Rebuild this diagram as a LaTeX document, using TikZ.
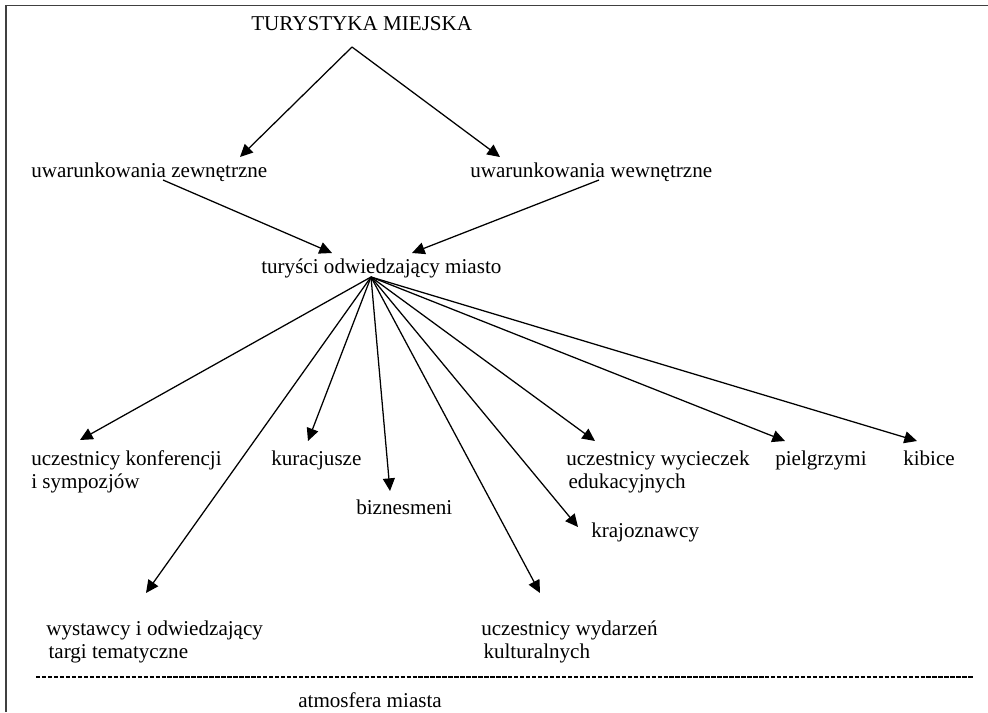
\documentclass[tikz,border=0pt]{standalone}
\usepackage{fontspec}
\setmainfont{Liberation Serif}
\usetikzlibrary{arrows.meta}

\begin{document}
\begin{tikzpicture}[x=0.025cm, y=-0.025cm,
        lbl/.style={anchor=base west, inner sep=0pt, align=left, font=\fontsize{15}{16.3}\selectfont},
        arr/.style={-{Triangle[length=9pt, width=8.5pt]}, line width=.9pt}]
        \useasboundingbox (0,0) rectangle (988,712);
        \draw[line width=.9pt, black!75] (6,712) -- (6,5.5) -- (988,5.5);

        \node[lbl] (city) at (251,30) {TURYSTYKA MIEJSKA};
        \node[lbl] (ext) at (31,177) {uwarunkowania zewnętrzne};
        \node[lbl] (int) at (470,177) {uwarunkowania wewnętrzne};
        \node[lbl] (vis) at (261,273) {turyści odwiedzający miasto};
        \coordinate (hub) at ([shift={(110,4)}]vis.base west);

        \draw[arr] ([shift={(101,17)}]city.base west) -- ([shift={(209,-20)}]ext.base west);
        \draw[arr] ([shift={(101,17)}]city.base west) -- ([shift={(30,-20)}]int.base west);
        \draw[arr] ([shift={(132,3)}]ext.base west) -- ([shift={(71,-20)}]vis.base west);
        \draw[arr] ([shift={(129,3)}]int.base west) -- ([shift={(151,-20)}]vis.base west);

        \node[lbl] (conf) at (31,488) {uczestnicy konferencji\\i sympozjów};
        \node[lbl] (spa) at (271,465) {kuracjusze};
        \node[lbl] (biz) at (356,514) {biznesmeni};
        \node[lbl] (fair) at (46,658) {wystawcy i odwiedzający\\\hspace{4\pgflinewidth}targi tematyczne};
        \node[lbl] (cult) at (481,658) {uczestnicy wydarzeń\\\hspace{4\pgflinewidth}kulturalnych};
        \node[lbl] (land) at (591,537) {krajoznawcy};
        \node[lbl] (edu) at (566,488) {uczestnicy wycieczek\\\hspace{4\pgflinewidth}edukacyjnych};
        \node[lbl] (pilg) at (775,465) {pielgrzymi};
        \node[lbl] (fans) at (903,465) {kibice};

        \draw[arr] (hub) -- ([shift={(49,-48)}]conf.base west);
        \draw[arr] (hub) -- ([shift={(37,-24)}]spa.base west);
        \draw[arr] (hub) -- ([shift={(34,-23)}]biz.base west);
        \draw[arr] (hub) -- ([shift={(100,-65)}]fair.base west);
        \draw[arr] (hub) -- ([shift={(59,-65)}]cult.base west);
        \draw[arr] (hub) -- ([shift={(-13,-10)}]land.base west);
        \draw[arr] (hub) -- ([shift={(29,-47)}]edu.base west);
        \draw[arr] (hub) -- ([shift={(10,-24)}]pilg.base west);
        \draw[arr] (hub) -- ([shift={(14,-24)}]fans.base west);

        \draw[line width=.9pt, dash pattern=on 3.1pt off 1.15pt] (36,677) -- (973,677);
        \node[lbl] (atm) at (298,707) {atmosfera miasta};
    \end{tikzpicture}
\end{document}
